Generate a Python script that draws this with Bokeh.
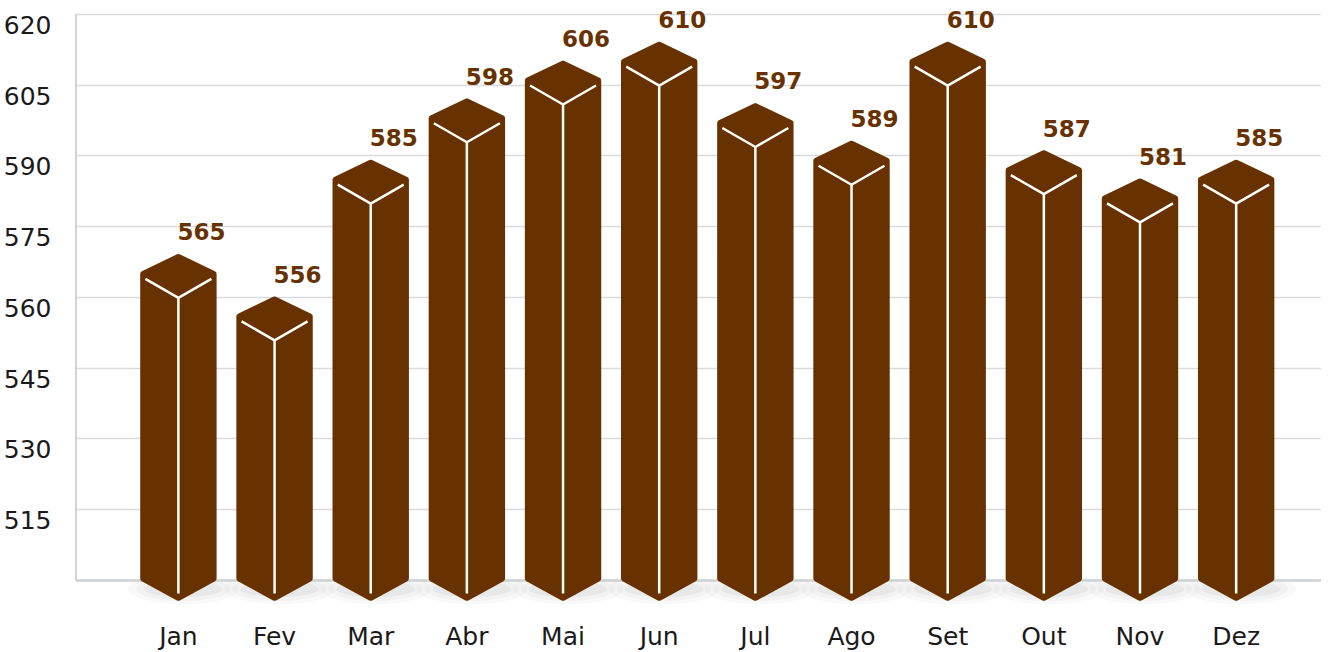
from bokeh.plotting import figure
from bokeh.models import FixedTicker, Range1d
from bokeh.core.properties import value
from bokeh.embed import file_html
from bokeh.resources import INLINE

months = ["Jan", "Fev", "Mar", "Abr", "Mai", "Jun", "Jul", "Ago", "Set", "Out", "Nov", "Dez"]
values = [565, 556, 585, 598, 606, 610, 597, 589, 610, 587, 581, 585]
y_ticks = [515, 530, 545, 560, 575, 590, 605, 620]
baseline = 500

BROWN = "#683200"
PXU_X = 96.16           # pixels per category unit
PXU_Y = 4.7166          # pixels per value unit

FRAME_W = 1247
FRAME_H = 602
x0 = -(178.9 - 75) / PXU_X
x1 = x0 + FRAME_W / PXU_X
y1 = 620 + 6 / PXU_Y
y0 = y1 - FRAME_H / PXU_Y

p = figure(frame_width=FRAME_W, frame_height=FRAME_H,
           x_range=Range1d(x0, x1), y_range=Range1d(y0, y1),
           output_backend="svg", toolbar_location=None,
           min_border_left=67, min_border_top=8, min_border_right=0, min_border_bottom=0)
p.outline_line_color = None
p.background_fill_color = "white"
p.border_fill_color = "white"

# grid
p.xgrid.visible = False
p.ygrid.ticker = FixedTicker(ticks=y_ticks)
p.ygrid.grid_line_color = "#d9dbde"
p.ygrid.grid_line_width = 1.5

# y axis: labels sit slightly below their grid line
lab_off = 2.2
p.yaxis.ticker = FixedTicker(ticks=[t - lab_off for t in y_ticks])
p.yaxis.major_label_overrides = {t - lab_off: str(t) for t in y_ticks}
p.yaxis.axis_line_color = None
p.yaxis.major_tick_line_color = None
p.yaxis.minor_tick_line_color = None
p.yaxis.major_label_standoff = 17
p.yaxis.major_label_text_font = "DejaVu Sans"
p.yaxis.major_label_text_font_size = "25px"
p.yaxis.major_label_text_color = "#1a1a1a"

# x axis
xs_idx = list(range(len(months)))
p.xaxis.ticker = FixedTicker(ticks=xs_idx)
p.xaxis.major_label_overrides = {i: m for i, m in zip(xs_idx, months)}
p.xaxis.axis_line_color = None
p.xaxis.major_tick_line_color = None
p.xaxis.minor_tick_line_color = None
p.xaxis.major_label_standoff = 5
p.xaxis.major_label_text_font = "DejaVu Sans"
p.xaxis.major_label_text_font_size = "25px"
p.xaxis.major_label_text_color = "#1a1a1a"

# axis lines drawn as segments
left_x = -(178.9 - 76.5) / PXU_X
p.segment(x0=[left_x], y0=[baseline], x1=[left_x], y1=[620], line_color="#d0d3d6", line_width=2)

# soft shadows under bars
for w, h, a in [(1.15, 6.5, 0.035), (0.98, 5.0, 0.045), (0.82, 3.4, 0.06)]:
    p.ellipse(x=[i + 0.05 for i in xs_idx], y=[baseline - 1.8] * len(xs_idx), width=w, height=h,
              fill_color="#555555", fill_alpha=a, line_color=None)

p.segment(x0=[left_x], y0=[baseline], x1=[x1], y1=[baseline], line_color="#cdd0d4", line_width=2.5)

# bars (hexagonal prism shape)
stroke = 3  # px of rounded stroke
hw = 38.2 / PXU_X - stroke / PXU_X
cap = 20.3 / PXU_Y - 3.4 / PXU_Y
bot_c = baseline + 0.4
bot_p = baseline - 4.4 + 3.4 / PXU_Y
bxs, bys = [], []
for i, v in zip(xs_idx, values):
    bxs.append([i - hw, i, i + hw, i + hw, i, i - hw])
    bys.append([v, v + cap, v, bot_c, bot_p, bot_c])
p.patches(bxs, bys, fill_color=BROWN, line_color=BROWN, line_width=2 * stroke, line_join="round")

# white edges
wxs, wys = [], []
dx = 33 / PXU_X
for i, v in zip(xs_idx, values):
    top_y = v - 5 / PXU_Y
    mid_y = v - 24 / PXU_Y
    wxs.append([i - dx, i, i + dx])
    wys.append([top_y, mid_y, top_y])
    wxs.append([i, i])
    wys.append([mid_y, baseline - 13 / PXU_Y])
p.multi_line(wxs, wys, line_color="white", line_width=2.5)

# value labels
p.text(x=[i + 23 / PXU_X for i in xs_idx], y=[v + 42 / PXU_Y for v in values],
       text=[str(v) for v in values], text_color=BROWN,
       text_font=value("DejaVu Sans"), text_font_style="bold", text_font_size="23px",
       text_align="center", text_baseline="alphabetic")

open("out.html", "w").write(file_html(p, INLINE))
